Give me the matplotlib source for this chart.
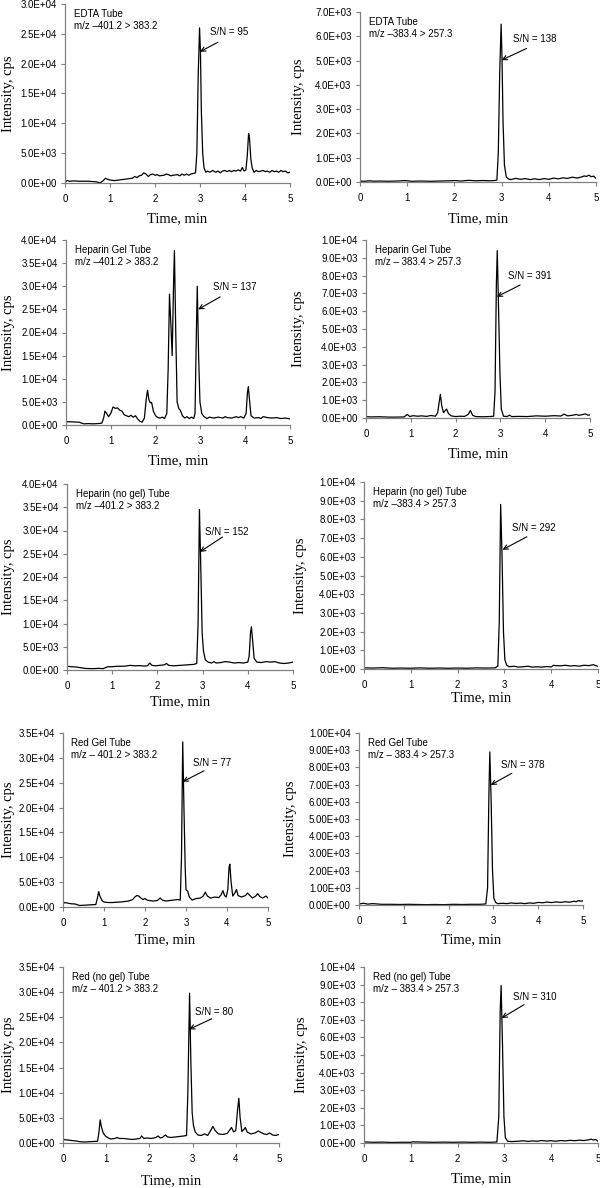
import numpy as np
import matplotlib
matplotlib.use('Agg')
import matplotlib.pyplot as plt
from matplotlib.ticker import FuncFormatter, MultipleLocator

# chromatogram traces: (time min, intensity cps)
edta_401 = [(0.00, 200), (0.05, 400), (0.10, 300), (0.20, 350), (0.30, 300), (0.40, 300), (0.50, 300),
            (0.60, 250), (0.70, 200), (0.78, 0), (0.85, 400), (0.90, 800), (0.95, 600), (1.00, 500),
            (1.10, 400), (1.20, 500), (1.30, 600), (1.40, 700), (1.50, 800), (1.55, 1100), (1.60, 900),
            (1.65, 1200), (1.70, 1300), (1.75, 1700), (1.80, 1500), (1.85, 1100), (1.90, 1400), (1.95, 1500),
            (2.00, 1300), (2.05, 1400), (2.10, 1200), (2.20, 1300), (2.25, 1500), (2.30, 1400), (2.35, 1200),
            (2.40, 1300), (2.50, 1400), (2.55, 1200), (2.60, 1500), (2.65, 1300), (2.70, 1500), (2.75, 1300),
            (2.80, 1500), (2.85, 1600), (2.90, 1700), (2.93, 5000), (2.96, 18000), (2.99, 26000),
            (3.01, 22000), (3.03, 12000), (3.06, 5000), (3.09, 2500), (3.13, 1800), (3.17, 2000),
            (3.22, 1800), (3.28, 2100), (3.35, 1800), (3.40, 2000), (3.45, 1700), (3.50, 2000), (3.55, 2100),
            (3.60, 1900), (3.65, 2100), (3.70, 1900), (3.75, 2100), (3.80, 2000), (3.85, 2200), (3.90, 2000),
            (3.94, 2600), (3.98, 2000), (4.02, 2200), (4.05, 4500), (4.08, 8300), (4.10, 7500), (4.13, 4000),
            (4.16, 2500), (4.20, 1800), (4.25, 2100), (4.30, 1900), (4.35, 2000), (4.40, 2100), (4.45, 1900),
            (4.50, 2000), (4.55, 1800), (4.60, 2100), (4.65, 1900), (4.70, 2000), (4.75, 1800), (4.80, 2100),
            (4.85, 1900), (4.90, 2000), (4.95, 1700), (5.00, 1800)]

edta_383 = [(0.00, 40), (0.10, 30), (0.20, 50), (0.30, 30), (0.40, 40), (0.60, 30), (0.80, 40), (0.95, 60),
            (1.10, 30), (1.30, 40), (1.50, 30), (1.70, 40), (1.90, 50), (2.00, 60), (2.15, 40), (2.30, 70),
            (2.45, 50), (2.60, 60), (2.75, 50), (2.85, 60), (2.90, 80), (2.93, 1200), (2.96, 4500),
            (2.99, 6500), (3.01, 5000), (3.03, 2500), (3.06, 700), (3.10, 200), (3.15, 120), (3.20, 100),
            (3.30, 150), (3.40, 110), (3.50, 140), (3.60, 100), (3.70, 130), (3.80, 100), (3.90, 140),
            (4.00, 110), (4.10, 160), (4.20, 130), (4.30, 170), (4.40, 150), (4.50, 200), (4.60, 160),
            (4.70, 210), (4.75, 250), (4.80, 230), (4.85, 280), (4.90, 220), (4.95, 240), (5.00, 150)]

hepgel_401 = [(0.00, 700), (0.10, 700), (0.20, 650), (0.30, 600), (0.35, 400), (0.40, 250), (0.50, 300),
              (0.60, 250), (0.70, 300), (0.80, 400), (0.84, 1500), (0.87, 3000), (0.90, 2600), (0.95, 1800),
              (1.00, 2500), (1.05, 3900), (1.10, 3600), (1.15, 3700), (1.20, 3200), (1.25, 3000), (1.30, 2200),
              (1.35, 2000), (1.40, 1800), (1.45, 2100), (1.50, 1700), (1.55, 2000), (1.60, 1300), (1.65, 800),
              (1.70, 600), (1.75, 1500), (1.79, 5500), (1.82, 7500), (1.85, 5500), (1.88, 4800), (1.91, 4900),
              (1.95, 3000), (2.00, 2000), (2.05, 1600), (2.10, 1500), (2.15, 1700), (2.20, 1400), (2.25, 2500),
              (2.28, 12000), (2.31, 28300), (2.34, 22000), (2.37, 15000), (2.40, 30000), (2.42, 37700),
              (2.45, 20000), (2.48, 5000), (2.52, 3500), (2.55, 3200), (2.60, 2000), (2.65, 1500),
              (2.70, 1800), (2.75, 1400), (2.80, 1700), (2.85, 1400), (2.88, 2500), (2.91, 20000),
              (2.93, 30000), (2.96, 15000), (2.99, 5000), (3.03, 2500), (3.08, 1800), (3.15, 1400),
              (3.20, 1700), (3.30, 1500), (3.40, 1700), (3.50, 1500), (3.55, 1800), (3.60, 1600), (3.70, 1500),
              (3.80, 1800), (3.85, 1600), (3.90, 1800), (3.97, 1500), (4.02, 2500), (4.05, 7000), (4.07, 8300),
              (4.10, 5000), (4.13, 2000), (4.20, 1500), (4.30, 1600), (4.35, 1400), (4.40, 1800), (4.50, 1600),
              (4.60, 1500), (4.70, 1600), (4.80, 1400), (4.90, 1500), (5.00, 1300)]

hepgel_383 = [(0.00, 80), (0.10, 60), (0.30, 70), (0.50, 50), (0.70, 50), (0.85, 60), (0.92, 200), (0.98, 80),
              (1.05, 130), (1.15, 100), (1.25, 120), (1.35, 90), (1.45, 140), (1.55, 100), (1.60, 300),
              (1.64, 1000), (1.66, 1330), (1.69, 700), (1.73, 300), (1.78, 450), (1.80, 500), (1.84, 250),
              (1.90, 120), (2.00, 80), (2.10, 100), (2.20, 90), (2.28, 200), (2.33, 420), (2.38, 150),
              (2.45, 80), (2.60, 70), (2.75, 80), (2.85, 100), (2.88, 1500), (2.91, 7500), (2.93, 9400),
              (2.96, 6000), (2.99, 2500), (3.02, 500), (3.07, 100), (3.15, 80), (3.20, 160), (3.25, 80),
              (3.40, 90), (3.60, 80), (3.80, 120), (4.00, 100), (4.20, 130), (4.35, 110), (4.42, 220),
              (4.50, 120), (4.60, 150), (4.70, 200), (4.75, 150), (4.85, 200), (4.90, 230), (4.95, 160),
              (5.00, 170)]

hepnogel_401 = [(0.00, 800), (0.10, 700), (0.20, 650), (0.30, 500), (0.40, 350), (0.50, 300), (0.60, 300),
                (0.70, 350), (0.80, 300), (0.90, 700), (1.00, 700), (1.10, 800), (1.20, 800), (1.30, 850),
                (1.40, 1000), (1.50, 900), (1.60, 950), (1.70, 850), (1.78, 900), (1.83, 1500), (1.88, 1000),
                (1.95, 900), (2.05, 1000), (2.15, 1100), (2.20, 1400), (2.25, 1000), (2.35, 900), (2.50, 1000),
                (2.65, 1100), (2.80, 1200), (2.87, 1400), (2.90, 10000), (2.93, 34500), (2.96, 22000),
                (2.99, 8000), (3.02, 4000), (3.06, 2200), (3.12, 1700), (3.20, 1500), (3.25, 1800), (3.30, 1500),
                (3.40, 1600), (3.50, 1800), (3.60, 1700), (3.70, 1500), (3.80, 1600), (3.90, 1500), (4.00, 1700),
                (4.03, 3000), (4.06, 8000), (4.08, 9300), (4.11, 6000), (4.14, 2500), (4.20, 1700), (4.30, 1600),
                (4.40, 1800), (4.50, 1700), (4.60, 1800), (4.70, 1500), (4.80, 1400), (4.90, 1500), (5.00, 1700)]

hepnogel_383 = [(0.00, 60), (0.20, 50), (0.40, 70), (0.60, 40), (0.80, 50), (1.00, 40), (1.20, 60), (1.40, 40),
                (1.60, 50), (1.80, 40), (2.00, 50), (2.20, 40), (2.40, 60), (2.60, 50), (2.80, 60), (2.86, 150),
                (2.89, 2500), (2.92, 8800), (2.95, 6000), (2.98, 2000), (3.01, 500), (3.05, 200), (3.10, 120),
                (3.20, 150), (3.30, 100), (3.40, 120), (3.50, 150), (3.60, 100), (3.70, 120), (3.80, 100),
                (3.90, 130), (4.00, 110), (4.05, 200), (4.10, 180), (4.20, 170), (4.30, 200), (4.40, 160),
                (4.50, 180), (4.60, 150), (4.70, 200), (4.80, 180), (4.90, 230), (5.00, 140)]

redgel_401 = [(0.00, 700), (0.05, 900), (0.10, 800), (0.20, 650), (0.30, 600), (0.40, 300), (0.50, 350),
              (0.60, 400), (0.70, 450), (0.80, 500), (0.84, 1800), (0.87, 3100), (0.90, 2200), (0.95, 1300),
              (1.00, 1000), (1.10, 900), (1.20, 900), (1.30, 950), (1.40, 1000), (1.50, 1100), (1.60, 1200),
              (1.70, 1500), (1.75, 2000), (1.80, 2300), (1.85, 2200), (1.90, 1800), (1.95, 1500), (2.00, 1700),
              (2.05, 1400), (2.10, 1300), (2.20, 1200), (2.30, 1300), (2.37, 1800), (2.42, 1400), (2.50, 1200),
              (2.60, 1300), (2.70, 1400), (2.80, 1500), (2.86, 1400), (2.89, 10000), (2.92, 33200),
              (2.95, 20000), (2.98, 8000), (3.00, 3500), (3.04, 3200), (3.08, 2000), (3.15, 1400), (3.25, 1700),
              (3.35, 1800), (3.42, 2200), (3.47, 3000), (3.52, 2200), (3.60, 1800), (3.70, 2000), (3.80, 1900),
              (3.86, 2500), (3.90, 3300), (3.94, 2300), (3.98, 2000), (4.02, 3500), (4.05, 8000), (4.07, 8600),
              (4.10, 5000), (4.14, 2200), (4.19, 2800), (4.23, 3500), (4.27, 2300), (4.35, 2000), (4.45, 2300),
              (4.50, 2800), (4.55, 2400), (4.62, 1800), (4.70, 2200), (4.75, 2700), (4.80, 2100), (4.87, 1800),
              (4.95, 2200), (5.00, 1800)]

redgel_383 = [(0.00, 60), (0.10, 100), (0.20, 50), (0.30, 80), (0.50, 40), (0.70, 40), (0.90, 30), (1.10, 40),
              (1.30, 30), (1.50, 20), (1.70, 30), (1.90, 20), (2.10, 40), (2.30, 30), (2.50, 40), (2.70, 40),
              (2.83, 60), (2.87, 1000), (2.90, 6500), (2.92, 8900), (2.95, 6000), (2.98, 2000), (3.01, 400),
              (3.05, 150), (3.10, 80), (3.20, 100), (3.30, 80), (3.40, 120), (3.50, 90), (3.60, 110),
              (3.70, 80), (3.80, 120), (3.90, 100), (4.00, 150), (4.10, 130), (4.20, 170), (4.30, 140),
              (4.40, 180), (4.50, 150), (4.60, 190), (4.70, 160), (4.80, 220), (4.85, 190), (4.90, 260),
              (4.95, 220), (5.00, 240)]

rednogel_401 = [(0.00, 700), (0.10, 600), (0.20, 500), (0.30, 400), (0.40, 250), (0.50, 200), (0.60, 250),
                (0.70, 300), (0.80, 350), (0.83, 2000), (0.86, 4600), (0.89, 3200), (0.93, 2000), (0.98, 1400),
                (1.05, 1000), (1.10, 800), (1.20, 900), (1.25, 1100), (1.30, 900), (1.40, 900), (1.50, 800),
                (1.60, 700), (1.70, 800), (1.78, 900), (1.82, 1400), (1.87, 900), (1.95, 1000), (2.05, 900),
                (2.15, 1100), (2.20, 1400), (2.25, 1000), (2.30, 1100), (2.37, 1600), (2.42, 1200), (2.50, 1100),
                (2.60, 1200), (2.70, 1300), (2.80, 1400), (2.86, 1500), (2.89, 10000), (2.93, 29800),
                (2.96, 16000), (2.99, 6000), (3.02, 3500), (3.06, 2200), (3.12, 1600), (3.20, 1500),
                (3.28, 1800), (3.35, 1500), (3.42, 2500), (3.47, 3300), (3.52, 2500), (3.60, 1800), (3.70, 1700),
                (3.80, 1900), (3.86, 2600), (3.90, 3100), (3.95, 2200), (4.00, 2500), (4.04, 6500), (4.07, 8900),
                (4.10, 5000), (4.14, 2300), (4.19, 2700), (4.22, 3100), (4.26, 2200), (4.35, 1800), (4.45, 2000),
                (4.52, 2400), (4.58, 2100), (4.65, 1800), (4.72, 1700), (4.78, 2000), (4.85, 1600), (4.92, 1500),
                (5.00, 1700)]

rednogel_383 = [(0.00, 60), (0.20, 40), (0.40, 50), (0.60, 30), (0.80, 40), (1.00, 40), (1.05, 70), (1.10, 60),
                (1.30, 50), (1.50, 40), (1.70, 50), (1.90, 40), (2.10, 50), (2.30, 40), (2.50, 50), (2.70, 40),
                (2.84, 60), (2.88, 1500), (2.91, 7500), (2.93, 8950), (2.96, 5500), (2.99, 1500), (3.02, 300),
                (3.07, 100), (3.15, 80), (3.30, 100), (3.40, 130), (3.50, 90), (3.60, 120), (3.70, 100),
                (3.80, 140), (3.90, 110), (4.00, 130), (4.10, 100), (4.20, 140), (4.30, 120), (4.40, 150),
                (4.50, 130), (4.60, 160), (4.70, 140), (4.80, 180), (4.85, 220), (4.90, 170), (4.95, 200),
                (5.00, 100)]

traces = [edta_401, edta_383, hepgel_401, hepgel_383, hepnogel_401, hepnogel_383,
          redgel_401, redgel_383, rednogel_401, rednogel_383]

panel_labels = ["EDTA Tube\nm/z \u2013401.2 > 383.2", "EDTA Tube\nm/z \u2013383.4 > 257.3",
                "Heparin Gel Tube\nm/z \u2013401.2 > 383.2", "Heparin Gel Tube\nm/z \u2013 383.4 > 257.3",
                "Heparin (no gel) Tube\nm/z \u2013401.2 > 383.2", "Heparin (no gel) Tube\nm/z \u2013383.4 > 257.3",
                "Red Gel Tube\nm/z \u2013 401.2 > 383.2", "Red Gel Tube\nm/z \u2013 383.4 > 257.3",
                "Red (no gel) Tube\nm/z \u2013 401.2 > 383.2", "Red (no gel) Tube\nm/z \u2013 383.4 > 257.3"]

sn_values = [95, 138, 137, 391, 152, 292, 77, 378, 80, 310]
y_max = [3e4, 7e3, 4e4, 1e4, 4e4, 1e4, 3.5e4, 1e4, 3.5e4, 1e4]
y_step = [5e3, 1e3, 5e3, 1e3, 5e3, 1e3, 5e3, 1e3, 5e3, 1e3]
y_decimals = [1, 1, 1, 1, 1, 1, 1, 2, 1, 1]

# annotation placement: text (t, y), arrow tail (t, y), arrow tip (t, y)
sn_text = [(3.22, 25300), (3.24, 5900), (3.29, 29800), (3.18, 7960), (3.05, 29700),
           (3.17, 7560), (3.18, 28900), (3.18, 8160), (3.06, 26000), (3.18, 8280)]
sn_tail = [(3.40, 23600), (3.53, 5500), (3.44, 27700), (3.44, 7470), (3.44, 28600),
           (3.48, 7070), (3.44, 27400), (3.41, 7660), (3.44, 24700), (3.42, 7860)]
sn_tip = [(3.00, 22000), (3.00, 5020), (2.95, 25000), (2.92, 6810), (2.94, 25400),
          (2.96, 6380), (2.92, 25200), (2.94, 6980), (2.92, 22600), (2.94, 7100)]

# layout in pixels: x of t=0, x of t=5, y of top, y of zero,
# y centre of xlabel, x of right edge of ylabel
layout = [(65, 290, 4, 183, 217, 15), (360, 596, 12, 182, 217, 305),
          (66, 290, 240, 425, 459, 15), (366, 590, 240, 418, 452, 305),
          (67, 293, 484, 670, 700, 15), (364, 598, 482, 669, 696, 307),
          (63, 268, 733, 907, 938, 15), (359, 583, 733, 905, 938, 297),
          (63, 279, 967, 1143, 1179, 15), (364, 598, 967, 1143, 1177, 308)]

W, H = 600, 1188
sans = ['Liberation Sans', 'DejaVu Sans']
serif = ['Liberation Serif', 'DejaVu Serif']
axis_gray = '#808080'

fig = plt.figure(figsize=(W / 100, H / 100), dpi=100)

for i in range(10):
    x0, x5, ytop, y0, xl_y, yl_x = layout[i]
    ax = fig.add_axes([x0 / W, 1 - y0 / H, (x5 - x0) / W, (y0 - ytop) / H])
    t, inten = np.array(traces[i], dtype=float).T
    ax.plot(t, inten, color='black', lw=0.9)

    ax.set_xlim(0, 5)
    ax.set_ylim(0, y_max[i])
    ax.xaxis.set_major_locator(MultipleLocator(1))
    ax.yaxis.set_major_locator(MultipleLocator(y_step[i]))
    d = y_decimals[i]
    ax.yaxis.set_major_formatter(FuncFormatter(lambda v, p, d=d: f"{v:.{d}E}"))

    for s in ['top', 'right']:
        ax.spines[s].set_visible(False)
    for s in ['left', 'bottom']:
        ax.spines[s].set_color(axis_gray)
        ax.spines[s].set_linewidth(0.9)
    ax.tick_params(direction='out', length=3, width=0.8, color=axis_gray, labelsize=7, pad=3)
    ax.tick_params(axis='x', pad=5)
    for lab in ax.get_xticklabels() + ax.get_yticklabels():
        lab.set_family(sans)

    ax.set_xlabel('Time, min', family=serif, fontsize=10.5)
    ax.set_ylabel('Intensity, cps', family=serif, fontsize=10.5)
    ax.xaxis.set_label_coords(0.5, (y0 - xl_y + 5) / (y0 - ytop))
    ax.yaxis.set_label_coords((yl_x - x0) / (x5 - x0), 0.5)

    ax.text(0.04, 1 - 5 / (y0 - ytop), panel_labels[i], transform=ax.transAxes,
            ha='left', va='top', fontsize=7, family=sans, linespacing=1.3)

    ax.annotate('', xy=sn_tip[i], xytext=sn_tail[i],
                arrowprops=dict(arrowstyle='->', lw=0.8, color='black',
                                shrinkA=0, shrinkB=0, mutation_scale=8))
    ax.text(sn_text[i][0], sn_text[i][1], f"S/N = {sn_values[i]}", ha='left', va='center',
            fontsize=7, family=sans)

fig.savefig('out.png', dpi=100)
